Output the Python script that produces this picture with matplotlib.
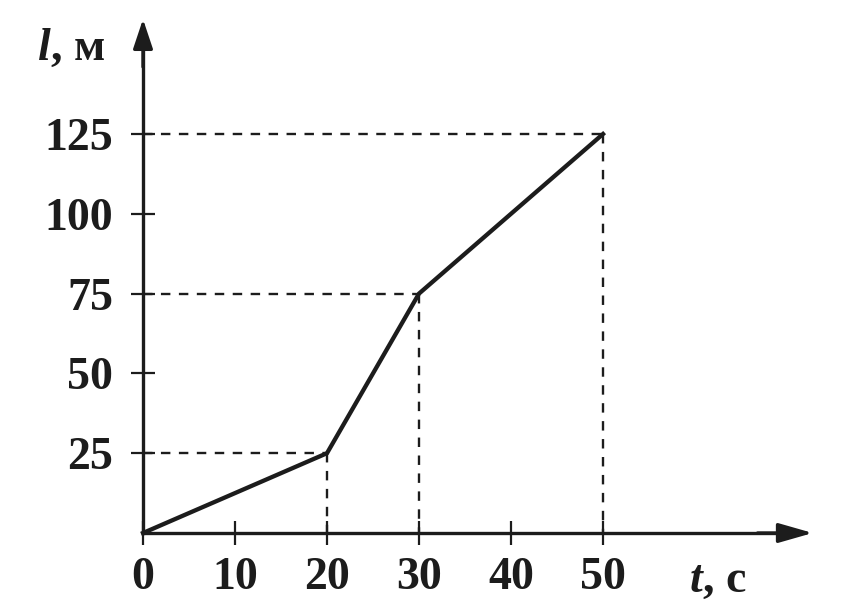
import matplotlib
matplotlib.use("Agg")
import matplotlib.pyplot as plt

# Data
t_vals = [0, 20, 30, 50]
l_vals = [0, 25, 75, 125]
x_ticks = [0, 10, 20, 30, 40, 50]
y_ticks = [25, 50, 75, 100, 125]
guide_points = [(20, 25), (30, 75), (50, 125)]

INK = "#1c1c1c"
W, H = 841, 606
fig = plt.figure(figsize=(W / 100, H / 100), dpi=100)
ax = fig.add_axes([0, 0, 1, 1])
fig.patch.set_facecolor("white")
ax.set_facecolor("white")

# pixel mapping: origin at (143,533); 9.2 px per s, 3.192 px per m
ox, oy, sx, sy = 143, 533, 9.2, 3.192
ax.set_xlim(-ox / sx, (W - ox) / sx)
ax.set_ylim(-(H - oy) / sy, oy / sy)

x_tip = 72.8
y_tip = 161.0

for s in ["top", "right"]:
    ax.spines[s].set_visible(False)
ax.spines["left"].set_position(("data", 0))
ax.spines["bottom"].set_position(("data", 0))
ax.spines["left"].set_bounds(0, y_tip - 3)
ax.spines["bottom"].set_bounds(0, x_tip - 2)
for s in ["left", "bottom"]:
    ax.spines[s].set_linewidth(2.4)
    ax.spines[s].set_color(INK)

# arrow heads
ax.annotate("", xy=(x_tip, 0), xytext=(x_tip - 6, 0),
            arrowprops=dict(arrowstyle="-|>,head_length=1.05,head_width=0.3",
                            color=INK, lw=2.4, mutation_scale=20, shrinkA=0, shrinkB=0))
ax.annotate("", xy=(0, y_tip), xytext=(0, y_tip - 15),
            arrowprops=dict(arrowstyle="-|>,head_length=0.9,head_width=0.3",
                            color=INK, lw=2.4, mutation_scale=20, shrinkA=0, shrinkB=0))

font = dict(family="Liberation Serif", weight="bold", size=33)

ax.set_xticks(x_ticks)
ax.set_xticklabels([str(v) for v in x_ticks], fontdict=font, color=INK)
ax.set_yticks(y_ticks)
ax.set_yticklabels([str(v) for v in y_ticks], fontdict=font, color=INK)
ax.tick_params(axis="both", direction="inout", length=17, width=1.6, color=INK)
ax.tick_params(axis="y", pad=13)
ax.tick_params(axis="x", pad=9)

# guide dashed lines
for px, py in guide_points:
    ax.plot([0, px], [py, py], color=INK, lw=1.7, dashes=(4.0, 3.6))
    ax.plot([px, px], [py, 0], color=INK, lw=1.7, dashes=(4.0, 3.6))

# data line
ax.plot(t_vals, l_vals, color=INK, lw=3.1, solid_joinstyle="miter")

# axis labels
t1 = fig.text(38 / W, 1 - 60 / H, "l", family="Liberation Serif", style="italic",
              weight="bold", size=33, color=INK, va="baseline", ha="left")
ax.annotate(", м", xy=(1, 0), xycoords=t1, va="bottom", ha="left",
            family="Liberation Serif", weight="bold", size=33, color=INK)
t2 = fig.text(690 / W, 1 - 592 / H, "t", family="Liberation Serif", style="italic",
              weight="bold", size=33, color=INK, va="baseline", ha="left")
ax.annotate(", с", xy=(1, 0), xycoords=t2, va="bottom", ha="left",
            family="Liberation Serif", weight="bold", size=33, color=INK)

fig.savefig("out.png", dpi=100, facecolor="white")
